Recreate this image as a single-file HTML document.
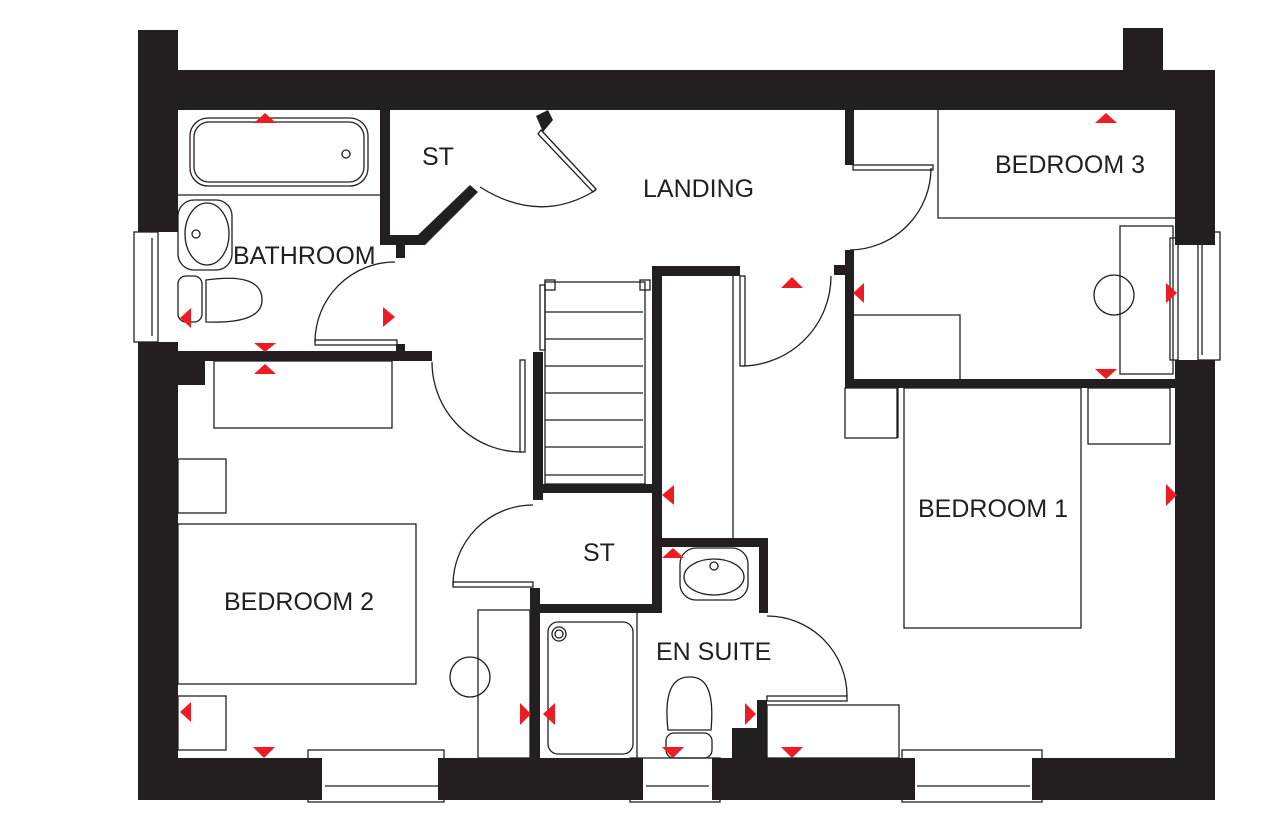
<!DOCTYPE html>
<html><head><meta charset="utf-8"><style>
html,body{margin:0;padding:0;background:#fff;width:1288px;height:840px;overflow:hidden}
text{font-family:"Liberation Sans",sans-serif;font-size:25px;fill:#231f20}
</style></head><body>
<svg width="1288" height="840" viewBox="0 0 1288 840" xmlns="http://www.w3.org/2000/svg">
<g fill="#231f20">
<rect x="138" y="30" width="40" height="202"/>
<rect x="138" y="342" width="40" height="458"/>
<rect x="178" y="70" width="1037" height="40"/>
<rect x="1123" y="28" width="40" height="44"/>
<rect x="1175" y="70" width="40" height="175"/>
<rect x="1175" y="360" width="40" height="440"/>
<rect x="138" y="758" width="184" height="42"/>
<rect x="438" y="758" width="205" height="42"/>
<rect x="712" y="758" width="203" height="42"/>
<rect x="1032" y="758" width="183" height="42"/>
<rect x="380" y="110" width="10" height="135"/>
<rect x="380" y="235" width="45" height="10"/>
<polygon points="418,235 425,245 478,192 470,185"/>
<rect x="396" y="240" width="9" height="18"/>
<rect x="178" y="351" width="254" height="10"/>
<rect x="396" y="344" width="9" height="10"/>
<polygon points="178,361 205,361 205,385 178,385"/>
<polygon points="536,116 548,110 553,120 543,132"/>
<rect x="533" y="352" width="10" height="148"/>
<rect x="533" y="484" width="129" height="9"/>
<rect x="652" y="266" width="10" height="346"/>
<rect x="652" y="266" width="88" height="10"/>
<rect x="530" y="588" width="10" height="172"/>
<rect x="530" y="604" width="132" height="9"/>
<rect x="662" y="538" width="106" height="9"/>
<rect x="759" y="538" width="9" height="75"/>
<rect x="757" y="700" width="10" height="60"/>
<rect x="732" y="728" width="25" height="30"/>
<rect x="845" y="110" width="9" height="55"/>
<rect x="845" y="250" width="9" height="138"/>
<rect x="845" y="379" width="330" height="9"/>
<rect x="834" y="265" width="12" height="10"/>
</g>
<g fill="none" stroke="#231f20" stroke-width="1.3">
<rect x="134" y="232" width="24" height="110"/><line x1="152" y1="238" x2="152" y2="336"/>
<rect x="1198" y="232" width="22" height="128"/><line x1="1202" y1="245" x2="1202" y2="355"/>
<rect x="308" y="750" width="136" height="52"/><line x1="325" y1="786" x2="438" y2="786"/>
<rect x="630" y="758" width="90" height="44"/><line x1="646" y1="786" x2="709" y2="786"/>
<rect x="902" y="750" width="140" height="52"/><line x1="917" y1="786" x2="1030" y2="786"/>
<rect x="190" y="118" width="178" height="68" rx="18"/>
<rect x="194" y="122" width="170" height="60" rx="15"/>
<circle cx="346" cy="154" r="4"/>
<line x1="178" y1="195" x2="380" y2="195"/>
<rect x="178" y="200" width="54" height="70" rx="16"/>
<ellipse cx="207" cy="234" rx="22" ry="31"/>
<circle cx="196" cy="234" r="4"/>
<rect x="178" y="276" width="24" height="46" rx="8"/>
<path d="M206,280 Q262,272 262,300 Q262,324 206,322 Z"/>
<path d="M315,342 A80,80 0 0 1 395,262"/>
<rect x="315" y="340" width="82" height="5"/>
<path d="M480,187 Q540,225 596,190"/>
<polygon points="541,130 596,189 593,192 538,134"/>
<path d="M432,362 A90,90 0 0 0 522,452"/>
<rect x="520" y="360" width="5" height="92"/>
<rect x="545" y="282" width="100" height="202"/>
<rect x="540" y="285" width="5" height="65"/>
<rect x="545" y="280" width="10" height="10"/><rect x="640" y="280" width="10" height="10"/>
<line x1="545" y1="312" x2="643" y2="312"/><line x1="545" y1="339" x2="643" y2="339"/>
<line x1="545" y1="366" x2="643" y2="366"/><line x1="545" y1="393" x2="643" y2="393"/>
<line x1="545" y1="420" x2="643" y2="420"/><line x1="545" y1="447" x2="643" y2="447"/>
<line x1="545" y1="475" x2="643" y2="475"/>
<line x1="733" y1="276" x2="733" y2="538"/>
<rect x="740" y="276" width="5" height="90"/>
<path d="M742,366 A90,90 0 0 0 831,276"/>
<rect x="853" y="165" width="80" height="5"/>
<path d="M931,168 A82,82 0 0 1 850,250"/>
<polyline points="938,110 938,218 1175,218"/>
<rect x="1120" y="226" width="53" height="148"/>
<rect x="1170" y="238" width="8" height="122"/>
<circle cx="1114" cy="295" r="20"/>
<polyline points="853,315 960,315 960,380"/>
<rect x="845" y="388" width="52" height="50"/>
<rect x="1088" y="388" width="82" height="56"/>
<rect x="904" y="388" width="177" height="240"/>
<line x1="898" y1="388" x2="898" y2="438"/>
<rect x="767" y="705" width="132" height="53"/>
<rect x="214" y="361" width="178" height="67"/>
<rect x="178" y="459" width="48" height="54"/>
<rect x="178" y="524" width="238" height="160"/>
<rect x="178" y="696" width="48" height="54"/>
<rect x="478" y="610" width="52" height="148"/>
<circle cx="470" cy="677" r="20"/>
<path d="M453,585 A80,80 0 0 1 533,505"/>
<rect x="453" y="582" width="80" height="5"/>
<rect x="548" y="622" width="85" height="132" rx="10"/>
<circle cx="559" cy="634" r="7"/><circle cx="559" cy="634" r="4"/>
<line x1="637" y1="612" x2="637" y2="758"/>
<rect x="680" y="548" width="68" height="52" rx="16"/>
<ellipse cx="714" cy="577" rx="30" ry="18"/>
<circle cx="714" cy="566" r="4"/>
<path d="M668,730 Q662,676 690,677 Q716,676 711,730 Z"/>
<rect x="666" y="733" width="46" height="25" rx="8"/>
<path d="M767,616 A80,80 0 0 1 847,696"/>
<rect x="767" y="696" width="80" height="5"/>
</g>
<g fill="#ed1c24">
<polygon points="254,123 276,123 265,113"/>
<polygon points="1095,123 1117,123 1106,113"/>
<polygon points="254,343 276,343 265,352"/>
<polygon points="254,374 276,374 265,364"/>
<polygon points="383,307 383,327 395,317"/>
<polygon points="191,308 191,328 180,318"/>
<polygon points="781,288 803,288 792,277"/>
<polygon points="864,283 864,303 853,293"/>
<polygon points="1166,283 1166,303 1177,293"/>
<polygon points="1095,369 1117,369 1106,379"/>
<polygon points="674,485 674,505 662,495"/>
<polygon points="1166,484 1166,506 1177,495"/>
<polygon points="662,558 684,558 673,548"/>
<polygon points="191,702 191,722 180,712"/>
<polygon points="253,747 275,747 264,758"/>
<polygon points="520,703 520,725 531,714"/>
<polygon points="555,703 555,725 543,714"/>
<polygon points="745,703 745,725 756,714"/>
<polygon points="662,747 684,747 673,758"/>
<polygon points="781,747 803,747 792,758"/>
</g>
<text x="422" y="165">ST</text>
<text x="643" y="197">LANDING</text>
<text x="995" y="173">BEDROOM 3</text>
<text x="233" y="264">BATHROOM</text>
<text x="918" y="517">BEDROOM 1</text>
<text x="583" y="561">ST</text>
<text x="224" y="610">BEDROOM 2</text>
<text x="656" y="660">EN SUITE</text>
</svg>
</body></html>
